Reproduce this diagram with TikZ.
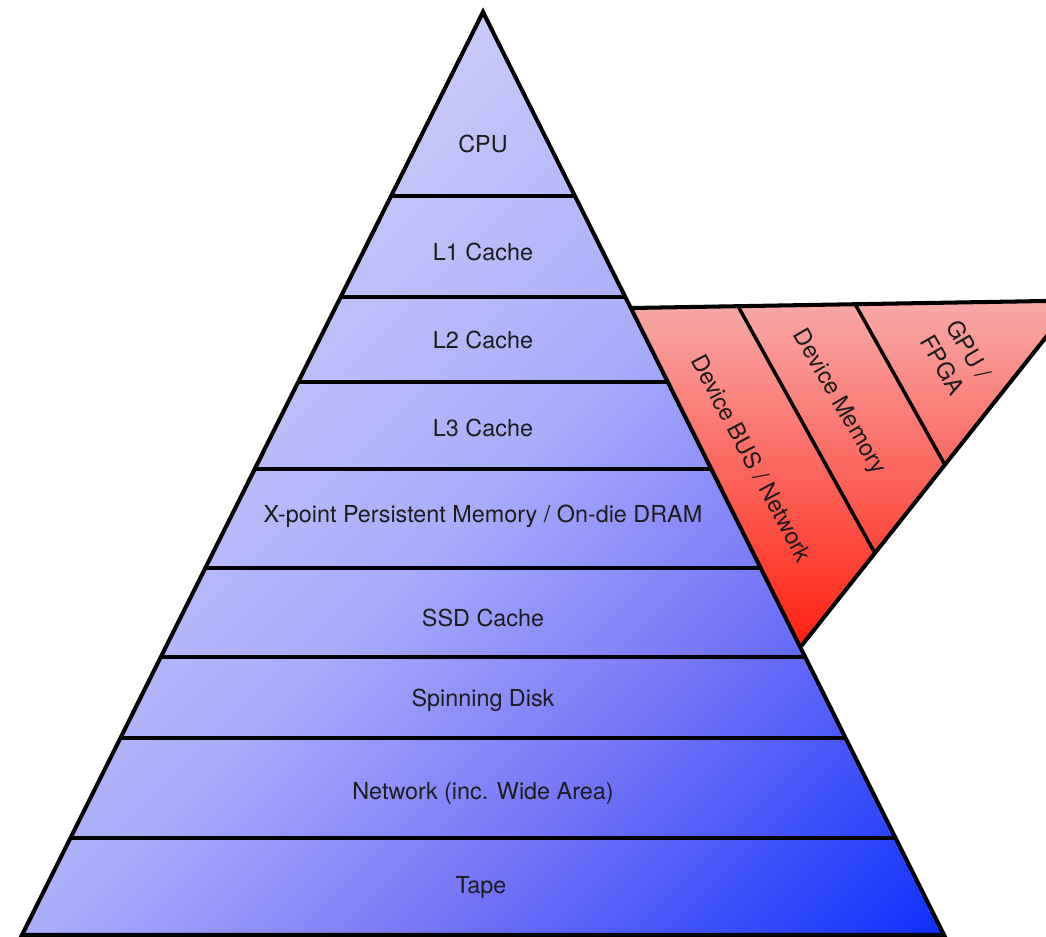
\documentclass[tikz,border=0pt]{standalone}
\usepackage{fontspec}
\setmainfont{TeX Gyre Heros}
\usetikzlibrary{calc}

\definecolor{pyrA}{HTML}{DCDCFD}
\definecolor{pyrB}{HTML}{C8C8FA}
\definecolor{pyrC}{HTML}{A8ACFA}
\definecolor{pyrD}{HTML}{7878F8}
\definecolor{pyrE}{HTML}{1E3CFA}
\definecolor{pyrF}{HTML}{0A2CFF}
\definecolor{devtop}{HTML}{F8AAA8}
\definecolor{devbot}{HTML}{FF2010}
\definecolor{labeltext}{HTML}{1C1C1C}

\pgfdeclarehorizontalshading{pyrshade}{100bp}{color(0bp)=(pyrA); color(15bp)=(pyrA); color(33bp)=(pyrB); color(51bp)=(pyrC); color(65bp)=(pyrD); color(82bp)=(pyrE); color(86bp)=(pyrF); color(100bp)=(pyrF)}

\tikzset{
  tier/.style={font=\fontsize{13.3}{17.5}\selectfont, text=labeltext, inner sep=0pt, text depth=0pt},
  divider/.style={line width=2pt},
  rim/.style={line width=2.3pt}
}

\begin{document}
\begin{tikzpicture}[x=0.02cm,y=-0.02cm]
  \useasboundingbox (0,0) rectangle (1046,937);
  \clip (0,0) rectangle (1046,937);
  \coordinate (apex) at (483,12);
  \coordinate (bl) at (22,935);
  \coordinate (br) at (944,935);
  \coordinate (A) at (631,308);
  \coordinate (B) at (800.5,647);
  \coordinate (C) at (1075,300.5);
  \shade[shading=pyrshade,shading angle=-45] (apex) -- (bl) -- (br) -- cycle;
  \begin{scope}
    \clip (apex) -- (bl) -- (br) -- cycle;
    \foreach \y in {196,297,382,469,568,657,738,838}
      \draw[divider] (0,\y) -- (1046,\y);
  \end{scope}
  \shade[top color=devtop,bottom color=devbot] (A) -- (B) -- (C) -- cycle;
  \draw[divider] ($(A)!0.241!(C)$) -- ($(B)!0.271!(C)$);
  \draw[divider] ($(A)!0.505!(C)$) -- ($(B)!0.526!(C)$);
  \draw[rim] (A) -- (C) -- (B);
  \draw[rim] (apex) -- (bl) -- (br) -- cycle;

  \node[tier] (cpu) at (483,144) {CPU};
  \node[tier] (lone) at (483,252) {L1 Cache};
  \node[tier] (ltwo) at (483,340) {L2 Cache};
  \node[tier] (lthree) at (483,428) {L3 Cache};
  \node[tier] (xpoint) at (483,514) {X-point Persistent Memory / On-die DRAM};
  \node[tier] (ssd) at (483,618) {SSD Cache};
  \node[tier] (disk) at (483,698) {Spinning Disk};
  \node[tier] (net) at (483,791) {Network (inc. Wide Area)};
  \node[tier] (tape) at (481,885) {Tape};

  \node[tier,rotate=-62] (bus) at (752,458) {Device BUS / Network};
  \node[tier,rotate=-60] (devmem) at (841,401) {Device Memory};
  \node[tier,rotate=-60,align=center] (gpu) at (956,357) {GPU /\\FPGA};
\end{tikzpicture}
\end{document}
